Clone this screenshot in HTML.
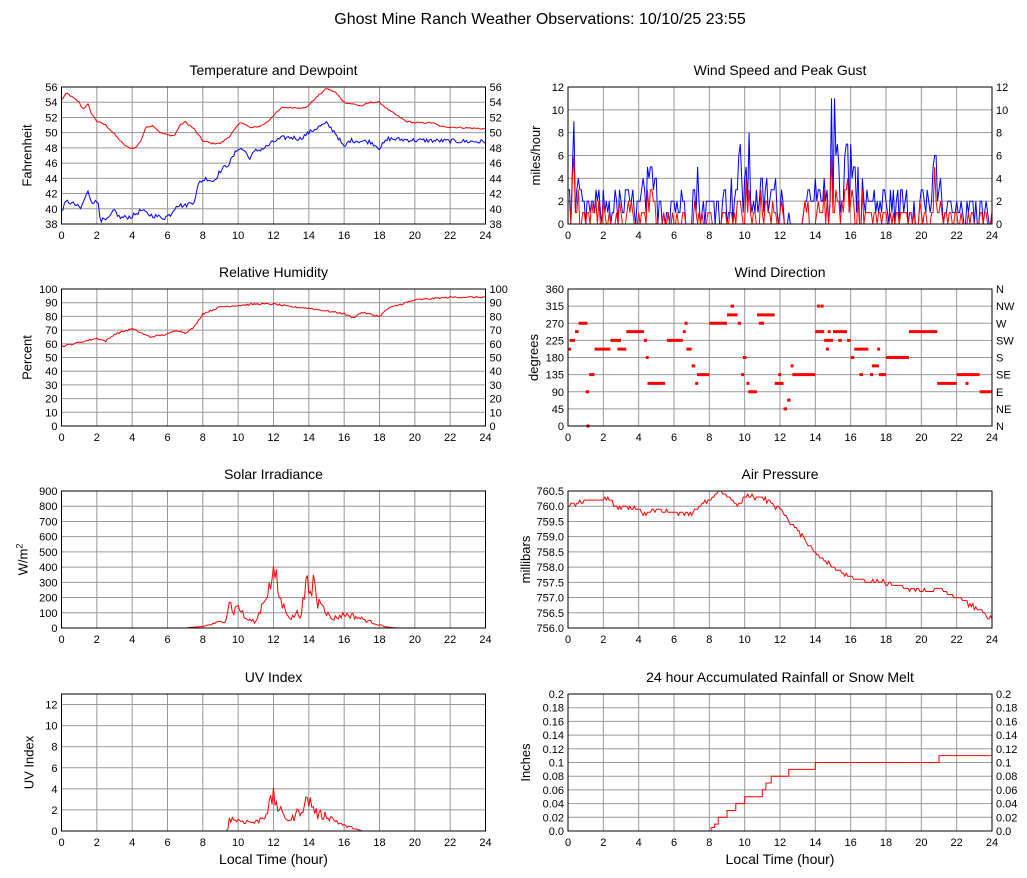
<!DOCTYPE html>
<html><head><meta charset="utf-8"><style>
html,body{margin:0;padding:0;background:#fff;}
svg{display:block;font-family:"Liberation Sans",sans-serif;}
</style></head><body>
<svg id="s" width="1027" height="878" xmlns="http://www.w3.org/2000/svg">
<text x="540" y="24" font-size="16" text-anchor="middle">Ghost Mine Ranch Weather Observations: 10/10/25 23:55</text>
</svg>
<script>
var S=document.getElementById('s'),out='';
var seed=12345;function rnd(){seed=(seed*1103515245+12345)%2147483648;return seed/2147483648;}
function interp(k,h){if(h<=k[0][0])return k[0][1];for(var i=1;i<k.length;i++){if(h<=k[i][0]){var a=k[i-1],b=k[i];return a[1]+(b[1]-a[1])*(h-a[0])/(b[0]-a[0]);}}return k[k.length-1][1];}
function panel(o){
 var x0=o.x,y0=o.y,w=424,h=137,mn=o.min,mx=o.max;
 var X=function(t){return x0+t/24*w;},Y=function(v){return y0+h-(v-mn)/(mx-mn)*h;};
 out+='<text x="'+(x0+w/2)+'" y="'+(y0-12)+'" font-size="14" text-anchor="middle">'+o.title+'</text>';
 for(var t=0;t<=24;t+=2){out+='<line x1="'+X(t)+'" y1="'+y0+'" x2="'+X(t)+'" y2="'+(y0+h)+'" stroke="#999" stroke-width="1"/>';
  out+='<text x="'+X(t)+'" y="'+(y0+h+15)+'" font-size="11" text-anchor="middle">'+t+'</text>';}
 for(var i=0;i<o.ticks.length;i++){var v=o.ticks[i],yy=Y(v);
  out+='<line x1="'+x0+'" y1="'+yy+'" x2="'+(x0+w)+'" y2="'+yy+'" stroke="#999" stroke-width="1"/>';
  out+='<text x="'+(x0-4)+'" y="'+(yy+4)+'" font-size="11" text-anchor="end">'+o.lab(v,i)+'</text>';
  if(o.rlab)out+='<text x="'+(x0+w+4)+'" y="'+(yy+4)+'" font-size="11">'+o.rlab(v,i)+'</text>';}
 var cy=y0+h/2;
 out+='<text transform="translate('+(x0-o.ylo)+','+cy+') rotate(-90)" font-size="13" text-anchor="middle">'+o.ylabel+'</text>';
 (o.series||[]).forEach(function(s){var p=s.d.map(function(q){return X(q[0]).toFixed(1)+','+Y(Math.max(mn,Math.min(mx,q[1]))).toFixed(1);}).join(' ');
  out+='<polyline points="'+p+'" fill="none" stroke="'+s.c+'" stroke-width="1"/>';});
 if(o.extra)out+=o.extra(X,Y);
 out+='<rect x="'+x0+'" y="'+y0+'" width="'+w+'" height="'+h+'" fill="none" stroke="#000" stroke-width="1"/>';
 if(o.xl)out+='<text x="'+(x0+w/2)+'" y="'+(y0+h+33)+'" font-size="14" text-anchor="middle">Local Time (hour)</text>';
}
function gen(k,n,noise,step){var d=[];for(var i=0;i<=n;i++){var t=24*i/n;var v=interp(k,t)+(rnd()-0.5)*noise;if(step)v=Math.round(v/step)*step;d.push([t,v]);}return d;}
function rng(a,b,s){var r=[];for(var v=a;v<=b+1e-9;v+=s)r.push(+v.toFixed(3));return r;}
var L=61.5,R=568,rows=[87,289,491,694];
var tk=[[0,54.3],[0.3,55.2],[1,54],[1.2,53.1],[1.5,53.7],[1.7,52.5],[2,51.5],[2.5,51],[3,49.8],[3.5,48.5],[3.8,48],[4.2,48],[4.5,49],[4.8,50.8],[5.2,50.9],[5.6,50],[6,49.7],[6.4,49.6],[6.7,51],[7,51.4],[7.5,50.5],[8,48.9],[8.5,48.6],[9,48.6],[9.5,49.5],[10,51],[10.2,51.4],[10.7,50.6],[11.3,50.9],[11.7,51.5],[12,52.3],[12.5,53.3],[13,53.3],[13.5,53.3],[13.8,53.2],[14.5,54.8],[15,55.8],[15.5,55.3],[16,54],[17,53.5],[17.5,54],[18,54],[18.5,53],[19.5,51.5],[20,51.3],[21,51.3],[21.5,50.8],[24,50.5]];
var dk=[[0,39.8],[0.3,41],[0.8,40.5],[1.1,40],[1.3,41.3],[1.5,42.2],[1.7,41],[2.1,40.8],[2.2,38.5],[2.6,38.5],[3,39.8],[3.3,38.8],[4,39],[4.5,39.8],[5,39.2],[5.8,38.8],[6.2,39.3],[6.5,40.5],[7,40.4],[7.5,41],[7.8,43.5],[8.2,44],[8.6,43.6],[9,45],[9.5,46],[10,48],[10.4,47.6],[10.6,46.6],[11,47.6],[11.5,48],[12,48.8],[12.5,49.3],[13,49.4],[13.5,49.2],[14,50],[14.5,50.7],[15,51.2],[15.5,50],[16,48],[16.3,49],[17.5,48.8],[18,48],[18.5,49.2],[20,49],[24,48.8]];
panel({x:L,y:rows[0],min:38,max:56,ticks:rng(38,56,2),lab:function(v){return v},rlab:function(v){return v},title:'Temperature and Dewpoint',ylabel:'Fahrenheit',ylo:30,
 series:[{c:'#f00',d:gen(tk,288,0.2)},{c:'#00f',d:gen(dk,288,0.6)}]});
var env=[[0,3],[0.3,9],[0.6,3],[1,1],[1.2,2.5],[4,2.5],[4.8,5],[5.2,2.5],[7,3],[7.3,5],[7.6,2],[9,3],[9.8,6],[10.3,7],[10.6,3],[12,4],[12.5,1],[12.6,0],[13.3,0],[13.5,3],[14.5,3],[15,10],[15.4,9],[16,8],[16.5,4],[17,3],[20.5,3],[20.9,6],[21.2,2],[24,2]];
var g=[],sp=[];for(var i=0;i<=288;i++){var t=i/12,e=interp(env,t);var gv=Math.round(e*(rnd()*1.25));var sv=Math.round(gv*(rnd()*0.8));if(e<0.5){gv=0;sv=0;}g.push([t,gv]);sp.push([t,sv]);}
panel({x:R,y:rows[0],min:0,max:12,ticks:rng(0,12,2),lab:function(v){return v},rlab:function(v){return v},title:'Wind Speed and Peak Gust',ylabel:'miles/hour',ylo:28,
 series:[{c:'#00f',d:g},{c:'#f00',d:sp}]});
var rk=[[0,58],[1,61],[2,64],[2.5,62],[3,67],[4,71],[4.5,68],[5,65],[6,67],[6.5,70],[7,68],[7.5,72],[8,82],[9,87],[10,88],[11,89],[12,89],[13,87],[14,86],[15,84],[16,82],[16.5,79],[17,83],[18,80],[18.5,86],[20,92],[22,94],[24,94]];
panel({x:L,y:rows[1],min:0,max:100,ticks:rng(0,100,10),lab:function(v){return v},rlab:function(v){return v},title:'Relative Humidity',ylabel:'Percent',ylo:30,
 series:[{c:'#f00',d:gen(rk,288,1.2)}]});
var seg=[[0,0.1,202],[0.1,0.4,225],[0.4,0.6,248],[0.6,1.1,270],[1,1.2,90],[1.05,1.15,0],[1.2,1.5,135],[1.5,2.4,202],[2.4,3,225],[2.8,3.3,202],[3.3,4.3,248],[4.3,4.4,225],[4.4,4.5,180],[4.5,5.5,112],[5.6,6.5,225],[6.5,6.6,248],[6.6,6.7,270],[6.7,7,202],[7,7.2,158],[7.2,7.3,112],[7.3,8,135],[8,9,270],[9,9.6,292],[9.2,9.4,315],[9.6,9.8,270],[9.8,9.9,135],[9.9,10.1,180],[10.1,10.2,112],[10.2,10.7,90],[10.7,11.1,292],[10.8,11.1,270],[11.1,11.7,292],[11.7,12.2,112],[11.9,12,135],[12.2,12.4,45],[12.4,12.6,68],[12.6,12.7,158],[12.7,14,135],[14,14.5,248],[14.1,14.2,315],[14.3,14.4,315],[14.5,15,225],[14.6,14.7,202],[14.7,14.8,248],[15,15.8,248],[15.3,15.5,225],[15.8,16,225],[16,16.2,180],[16.2,17,202],[16.5,16.7,135],[17.1,17.2,135],[17.2,17.6,158],[17.5,17.6,202],[17.6,18,135],[18,19.3,180],[19.3,20.9,248],[20.9,22,112],[22,23.3,135],[22.5,22.6,112],[23.3,24,90]];
var dn=['N','NE','E','SE','S','SW','W','NW','N'];
panel({x:R,y:rows[1],min:0,max:360,ticks:rng(0,360,45),lab:function(v){return v},rlab:function(v,i){return dn[i]},title:'Wind Direction',ylabel:'degrees',ylo:30,
 extra:function(X,Y){var s='';seg.forEach(function(q){s+='<line x1="'+X(q[0])+'" y1="'+Y(q[2])+'" x2="'+Math.max(X(q[1]),X(q[0])+3)+'" y2="'+Y(q[2])+'" stroke="#f00" stroke-width="3"/>';});return s;}});
var sk=[[0,0],[7,0],[8,10],[9,40],[9.3,50],[9.5,190],[9.7,100],[10,150],[10.4,60],[11,40],[11.5,200],[12,330],[12.1,360],[12.3,220],[12.5,150],[12.8,100],[13,60],[13.3,100],[13.5,80],[13.7,180],[13.9,300],[14.1,200],[14.3,350],[14.5,140],[14.7,210],[15,100],[15.3,60],[15.6,70],[16,90],[16.5,80],[17,60],[17.5,40],[18,20],[18.5,5],[19,0],[24,0]];
var sd=[];for(var i=0;i<=288;i++){var t=i/12,v=interp(sk,t);if(v>0)v=Math.max(0,v*(0.75+rnd()*0.5));sd.push([t,v]);}
panel({x:L,y:rows[2],min:0,max:900,ticks:rng(0,900,100),lab:function(v){return v},title:'Solar Irradiance',ylabel:'W/m<tspan dy="-5" font-size="9">2</tspan>',ylo:34,
 series:[{c:'#f00',d:sd}]});
var pk=[[0,760.0],[1.2,760.2],[2.5,760.2],[2.6,760.0],[4,759.95],[4.2,759.7],[5,759.9],[6,759.8],[7,759.8],[8,760.2],[8.7,760.5],[9.3,760.2],[9.6,760.0],[10,760.3],[11,760.3],[12,759.9],[13,759.2],[14,758.5],[15,758.0],[16,757.7],[17,757.5],[18,757.5],[19,757.3],[20,757.2],[21,757.3],[22,757.0],[23,756.7],[24,756.3]];
panel({x:R,y:rows[2],min:756,max:760.5,ticks:rng(756,760.5,0.5),lab:function(v){return v.toFixed(1)},title:'Air Pressure',ylabel:'millibars',ylo:38,
 series:[{c:'#f00',d:gen(pk,288,0.12,0.1)}]});
var uk=[[0,0],[9.4,0],[9.5,1.2],[10,1],[11,0.8],[11.5,1.5],[12,3.2],[12.5,1.5],[13,1],[13.5,2],[14,3],[14.5,1.5],[15,1.5],[16,0.5],[16.5,0.3],[17,0],[24,0]];
var ud=[];for(var i=0;i<=288;i++){var t=i/12,v=interp(uk,t);if(v>0)v=Math.max(0,v*(0.7+rnd()*0.6));ud.push([t,v]);}
panel({x:L,y:rows[3],min:0,max:13,ticks:rng(0,12,2),lab:function(v){return v},title:'UV Index',ylabel:'UV Index',ylo:28,xl:1,
 series:[{c:'#f00',d:ud}]});
var rs=[[0,0],[8.05,0],[8.1,0.005],[8.3,0.01],[8.5,0.02],[9,0.03],[9.5,0.04],[10,0.05],[11,0.06],[11.2,0.07],[11.5,0.08],[12.5,0.09],[14,0.1],[21,0.11]];
var rd=[];for(var i=0;i<rs.length;i++){rd.push([rs[i][0],rs[i][1]]);var nx=i+1<rs.length?rs[i+1][0]:24;rd.push([nx,rs[i][1]]);}
var rl=function(v){return v===0?'0.0':(+v.toFixed(2)).toString()};
panel({x:R,y:rows[3],min:0,max:0.2,ticks:rng(0,0.2,0.02),lab:rl,rlab:rl,title:'24 hour Accumulated Rainfall or Snow Melt',ylabel:'Inches',ylo:38,xl:1,
 series:[{c:'#f00',d:rd}]});
S.insertAdjacentHTML('beforeend',out);
</script>
</body></html>
